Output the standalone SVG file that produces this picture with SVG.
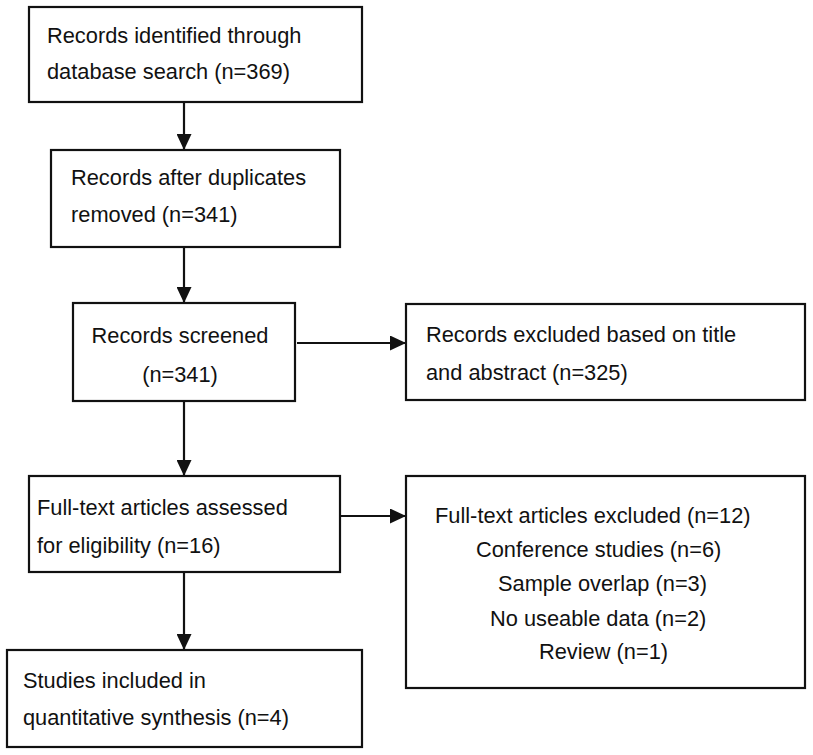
<svg xmlns="http://www.w3.org/2000/svg" width="813" height="755" viewBox="0 0 813 755">
<style>
.box{fill:#fff;stroke:#111;stroke-width:2.2}
.t{font-family:"Liberation Sans",Arial,sans-serif;font-size:21.8px;fill:#111}
.c{stroke:#111;stroke-width:2.2;fill:none}
</style>
<defs>
<marker id="ah" viewBox="0 0 16 15" refX="16" refY="7.5" markerWidth="16" markerHeight="15" markerUnits="userSpaceOnUse" orient="auto">
<path d="M0,0 L16,7.5 L0,15 z" fill="#111"/>
</marker>
</defs>
<rect width="813" height="755" fill="#fff"/>
<g id="connectors">
<line class="c" x1="184" y1="102" x2="184" y2="150" marker-end="url(#ah)"/>
<line class="c" x1="184" y1="247" x2="184" y2="303" marker-end="url(#ah)"/>
<line class="c" x1="184" y1="401" x2="184" y2="476" marker-end="url(#ah)"/>
<line class="c" x1="184" y1="572" x2="184" y2="650" marker-end="url(#ah)"/>
<line class="c" x1="297" y1="343" x2="406" y2="343" marker-end="url(#ah)"/>
<line class="c" x1="341" y1="516" x2="406" y2="516" marker-end="url(#ah)"/>
</g>
<g id="identified">
<rect class="box" x="29" y="7" width="333" height="95"/>
<text class="t" x="47" y="43">Records identified through</text>
<text class="t" x="47" y="79">database search (n=369)</text>
</g>
<g id="duplicates">
<rect class="box" x="51" y="150" width="289" height="97"/>
<text class="t" x="71" y="185">Records after duplicates</text>
<text class="t" x="71" y="222">removed (n=341)</text>
</g>
<g id="screened">
<rect class="box" x="73" y="303" width="222" height="98"/>
<text class="t" x="180" y="343" text-anchor="middle">Records screened</text>
<text class="t" x="180" y="382" text-anchor="middle">(n=341)</text>
</g>
<g id="excluded-title">
<rect class="box" x="406" y="304" width="399" height="96"/>
<text class="t" x="426" y="342">Records excluded based on title</text>
<text class="t" x="426" y="380">and abstract (n=325)</text>
</g>
<g id="fulltext">
<rect class="box" x="29" y="476" width="311" height="96"/>
<text class="t" x="37" y="515">Full-text articles assessed</text>
<text class="t" x="37" y="553">for eligibility (n=16)</text>
</g>
<g id="fulltext-excluded">
<rect class="box" x="406" y="476" width="399" height="212"/>
<text class="t" x="435" y="523">Full-text articles excluded (n=12)</text>
<text class="t" x="476" y="557">Conference studies (n=6)</text>
<text class="t" x="498" y="591">Sample overlap (n=3)</text>
<text class="t" x="490" y="626">No useable data (n=2)</text>
<text class="t" x="539" y="659">Review (n=1)</text>
</g>
<g id="included">
<rect class="box" x="7" y="650" width="355" height="97"/>
<text class="t" x="23" y="688">Studies included in</text>
<text class="t" x="23" y="725">quantitative synthesis (n=4)</text>
</g>
</svg>
